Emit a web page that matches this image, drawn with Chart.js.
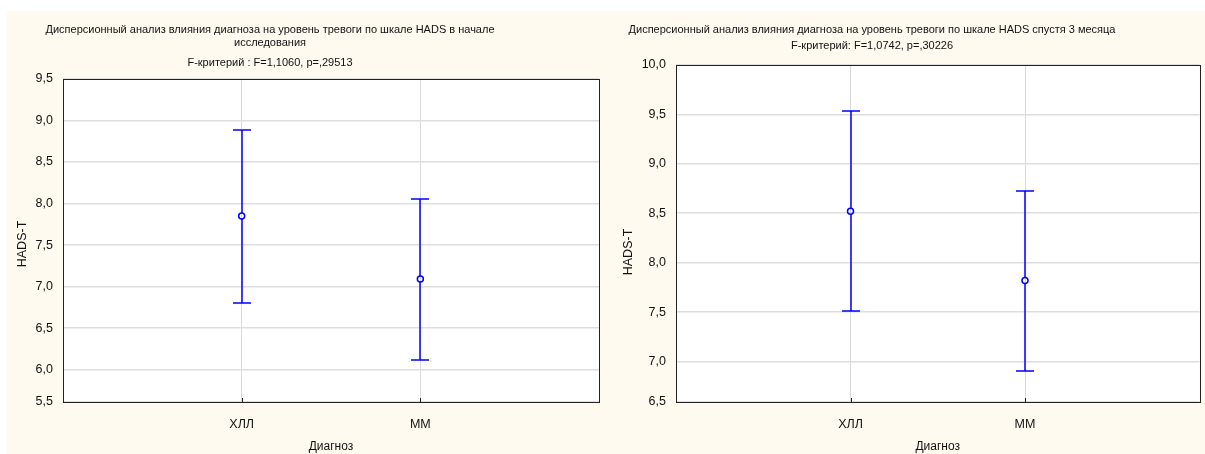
<!DOCTYPE html>
<html>
<head>
<meta charset="utf-8">
<script src="https://cdn.jsdelivr.net/npm/chart.js@4"></script>
<style>
  body { margin: 0; background: #fff; }
  #wrap { position: relative; width: 1205px; height: 454px; }
  canvas { position: absolute; background: #FFFAF0; }
</style>
</head>
<body>
<div id="wrap">
  <canvas id="left" width="603" height="443" style="left:7px; top:11px;"></canvas>
  <canvas id="right" width="595" height="443" style="left:610px; top:11px;"></canvas>
</div>
<script>
// groups on the x axis
const categories = ['ХЛЛ', 'ММ'];
const catPos = [1, 2];

// HADS-T at the start of the study
const startMean = [7.85, 7.09];
const startLow = [6.80, 6.12];
const startHigh = [8.89, 8.06];

// HADS-T after 3 months
const m3Mean = [8.52, 7.82];
const m3Low = [7.51, 6.90];
const m3High = [9.53, 8.73];

// y ticks (lowest one sits on the axis edge, as in the original)
const startTickValues = [5.61, 6.0, 6.5, 7.0, 7.5, 8.0, 8.5, 9.0, 9.5];
const startTickLabels = ['5,5', '6,0', '6,5', '7,0', '7,5', '8,0', '8,5', '9,0', '9,5'];
const m3TickValues = [6.59, 7.0, 7.5, 8.0, 8.5, 9.0, 9.5, 10.0];
const m3TickLabels = ['6,5', '7,0', '7,5', '8,0', '8,5', '9,0', '9,5', '10,0'];

const startTitle = [
  'Дисперсионный анализ влияния диагноза на уровень тревоги по шкале HADS в начале',
  'исследования',
  'F-критерий : F=1,1060, p=,29513'
];
const m3Title = [
  'Дисперсионный анализ влияния диагноза на уровень тревоги по шкале HADS спустя 3 месяца',
  'F-критерий: F=1,0742, p=,30226'
];
const yTitle = 'HADS-T';
const xTitle = 'Диагноз';

const BLUE = '#0000ff';
const FONT = "'Liberation Sans', Arial, sans-serif";

Chart.defaults.font.family = FONT;
Chart.defaults.font.size = 12;
Chart.defaults.color = '#111';

function makeChart(id, cfg) {
  const points = catPos.map((x, i) => ({ x: x, y: cfg.mean[i] }));

  // white plot area, frame, small ticks, whiskers, titles
  const decor = {
    id: 'decor',
    beforeDraw(chart) {
      const a = chart.chartArea, ctx = chart.ctx;
      ctx.save();
      ctx.fillStyle = '#fff';
      ctx.fillRect(a.left, a.top, a.right - a.left, a.bottom - a.top);
      ctx.restore();
    },
    afterDatasetsDraw(chart) {
      const ctx = chart.ctx, xs = chart.scales.x, ys = chart.scales.y;
      ctx.save();
      ctx.lineWidth = 1.5;
      ctx.strokeStyle = BLUE;
      catPos.forEach((v, i) => {
        const x = Math.round(xs.getPixelForValue(v));
        const y1 = Math.round(ys.getPixelForValue(cfg.low[i]));
        const y2 = Math.round(ys.getPixelForValue(cfg.high[i]));
        const ym = ys.getPixelForValue(cfg.mean[i]);
        ctx.beginPath();
        ctx.moveTo(x, y1); ctx.lineTo(x, ym + 3);
        ctx.moveTo(x, ym - 3); ctx.lineTo(x, y2);
        ctx.moveTo(x - 9, y1); ctx.lineTo(x + 9, y1);
        ctx.moveTo(x - 9, y2); ctx.lineTo(x + 9, y2);
        ctx.stroke();
      });
      ctx.restore();
    },
    afterDraw(chart) {
      const a = chart.chartArea, ctx = chart.ctx, xs = chart.scales.x;
      ctx.save();
      ctx.strokeStyle = '#222';
      ctx.lineWidth = 1;
      ctx.strokeRect(Math.round(a.left) + 0.5, Math.round(a.top) + 0.5,
        Math.round(a.right - a.left), Math.round(a.bottom - a.top));
      catPos.forEach(v => {
        const x = Math.round(xs.getPixelForValue(v)) + 0.5;
        ctx.beginPath();
        ctx.moveTo(x, a.bottom);
        ctx.lineTo(x, a.bottom - 4);
        ctx.stroke();
      });
      ctx.fillStyle = '#111';
      ctx.textAlign = 'center';
      ctx.textBaseline = 'middle';
      ctx.font = '11px ' + FONT;
      cfg.title.lines.forEach((l, i) => ctx.fillText(l, cfg.title.cx, cfg.title.ys[i]));
      ctx.font = '12.5px ' + FONT;
      ctx.translate(cfg.yTitlePos[0], cfg.yTitlePos[1]);
      ctx.rotate(-Math.PI / 2);
      ctx.fillText(yTitle, 0, 0);
      ctx.restore();
    }
  };

  return new Chart(document.getElementById(id), {
    type: 'scatter',
    data: {
      datasets: [{
        data: points,
        pointRadius: 3,
        pointBorderWidth: 1.5,
        pointBorderColor: BLUE,
        pointBackgroundColor: 'rgba(0,0,0,0)',
        showLine: false
      }]
    },
    options: {
      responsive: false,
      animation: false,
      layout: { padding: cfg.padding },
      plugins: {
        legend: { display: false },
        tooltip: { enabled: false }
      },
      scales: {
        x: {
          type: 'linear',
          min: 0,
          max: 3,
          afterBuildTicks: s => { s.ticks = catPos.map(v => ({ value: v })); },
          afterFit: s => { s.height = 52; },
          ticks: { padding: 15, font: { size: 12.5 }, callback: (v, i) => categories[i] },
          grid: { color: '#d9d9d9', drawTicks: false },
          border: { display: false },
          title: { display: true, text: xTitle, padding: { top: 0, bottom: 0 } }
        },
        y: {
          min: cfg.tickValues[0],
          max: cfg.tickValues[cfg.tickValues.length - 1],
          afterBuildTicks: s => { s.ticks = cfg.tickValues.map(v => ({ value: v })); },
          afterFit: s => { s.width = cfg.yWidth; },
          ticks: { padding: 10, autoSkip: false, font: { size: 12.5 }, callback: (v, i) => cfg.tickLabels[i] },
          grid: { color: '#dedede', lineWidth: 1.5, drawTicks: false },
          border: { display: false }
        }
      }
    },
    plugins: [decor]
  });
}

makeChart('left', {
  mean: startMean, low: startLow, high: startHigh,
  tickValues: startTickValues, tickLabels: startTickLabels,
  padding: { left: 0, right: 11, top: 68, bottom: 0 },
  yWidth: 56, yTitlePos: [16, 233],
  title: { lines: startTitle, cx: 263, ys: [19, 32, 52] }
});

makeChart('right', {
  mean: m3Mean, low: m3Low, high: m3High,
  tickValues: m3TickValues, tickLabels: m3TickLabels,
  padding: { left: 0, right: 2, top: 54, bottom: 0 },
  yWidth: 66, yTitlePos: [19, 241],
  title: { lines: m3Title, cx: 262, ys: [19, 35] }
});
</script>
</body>
</html>
